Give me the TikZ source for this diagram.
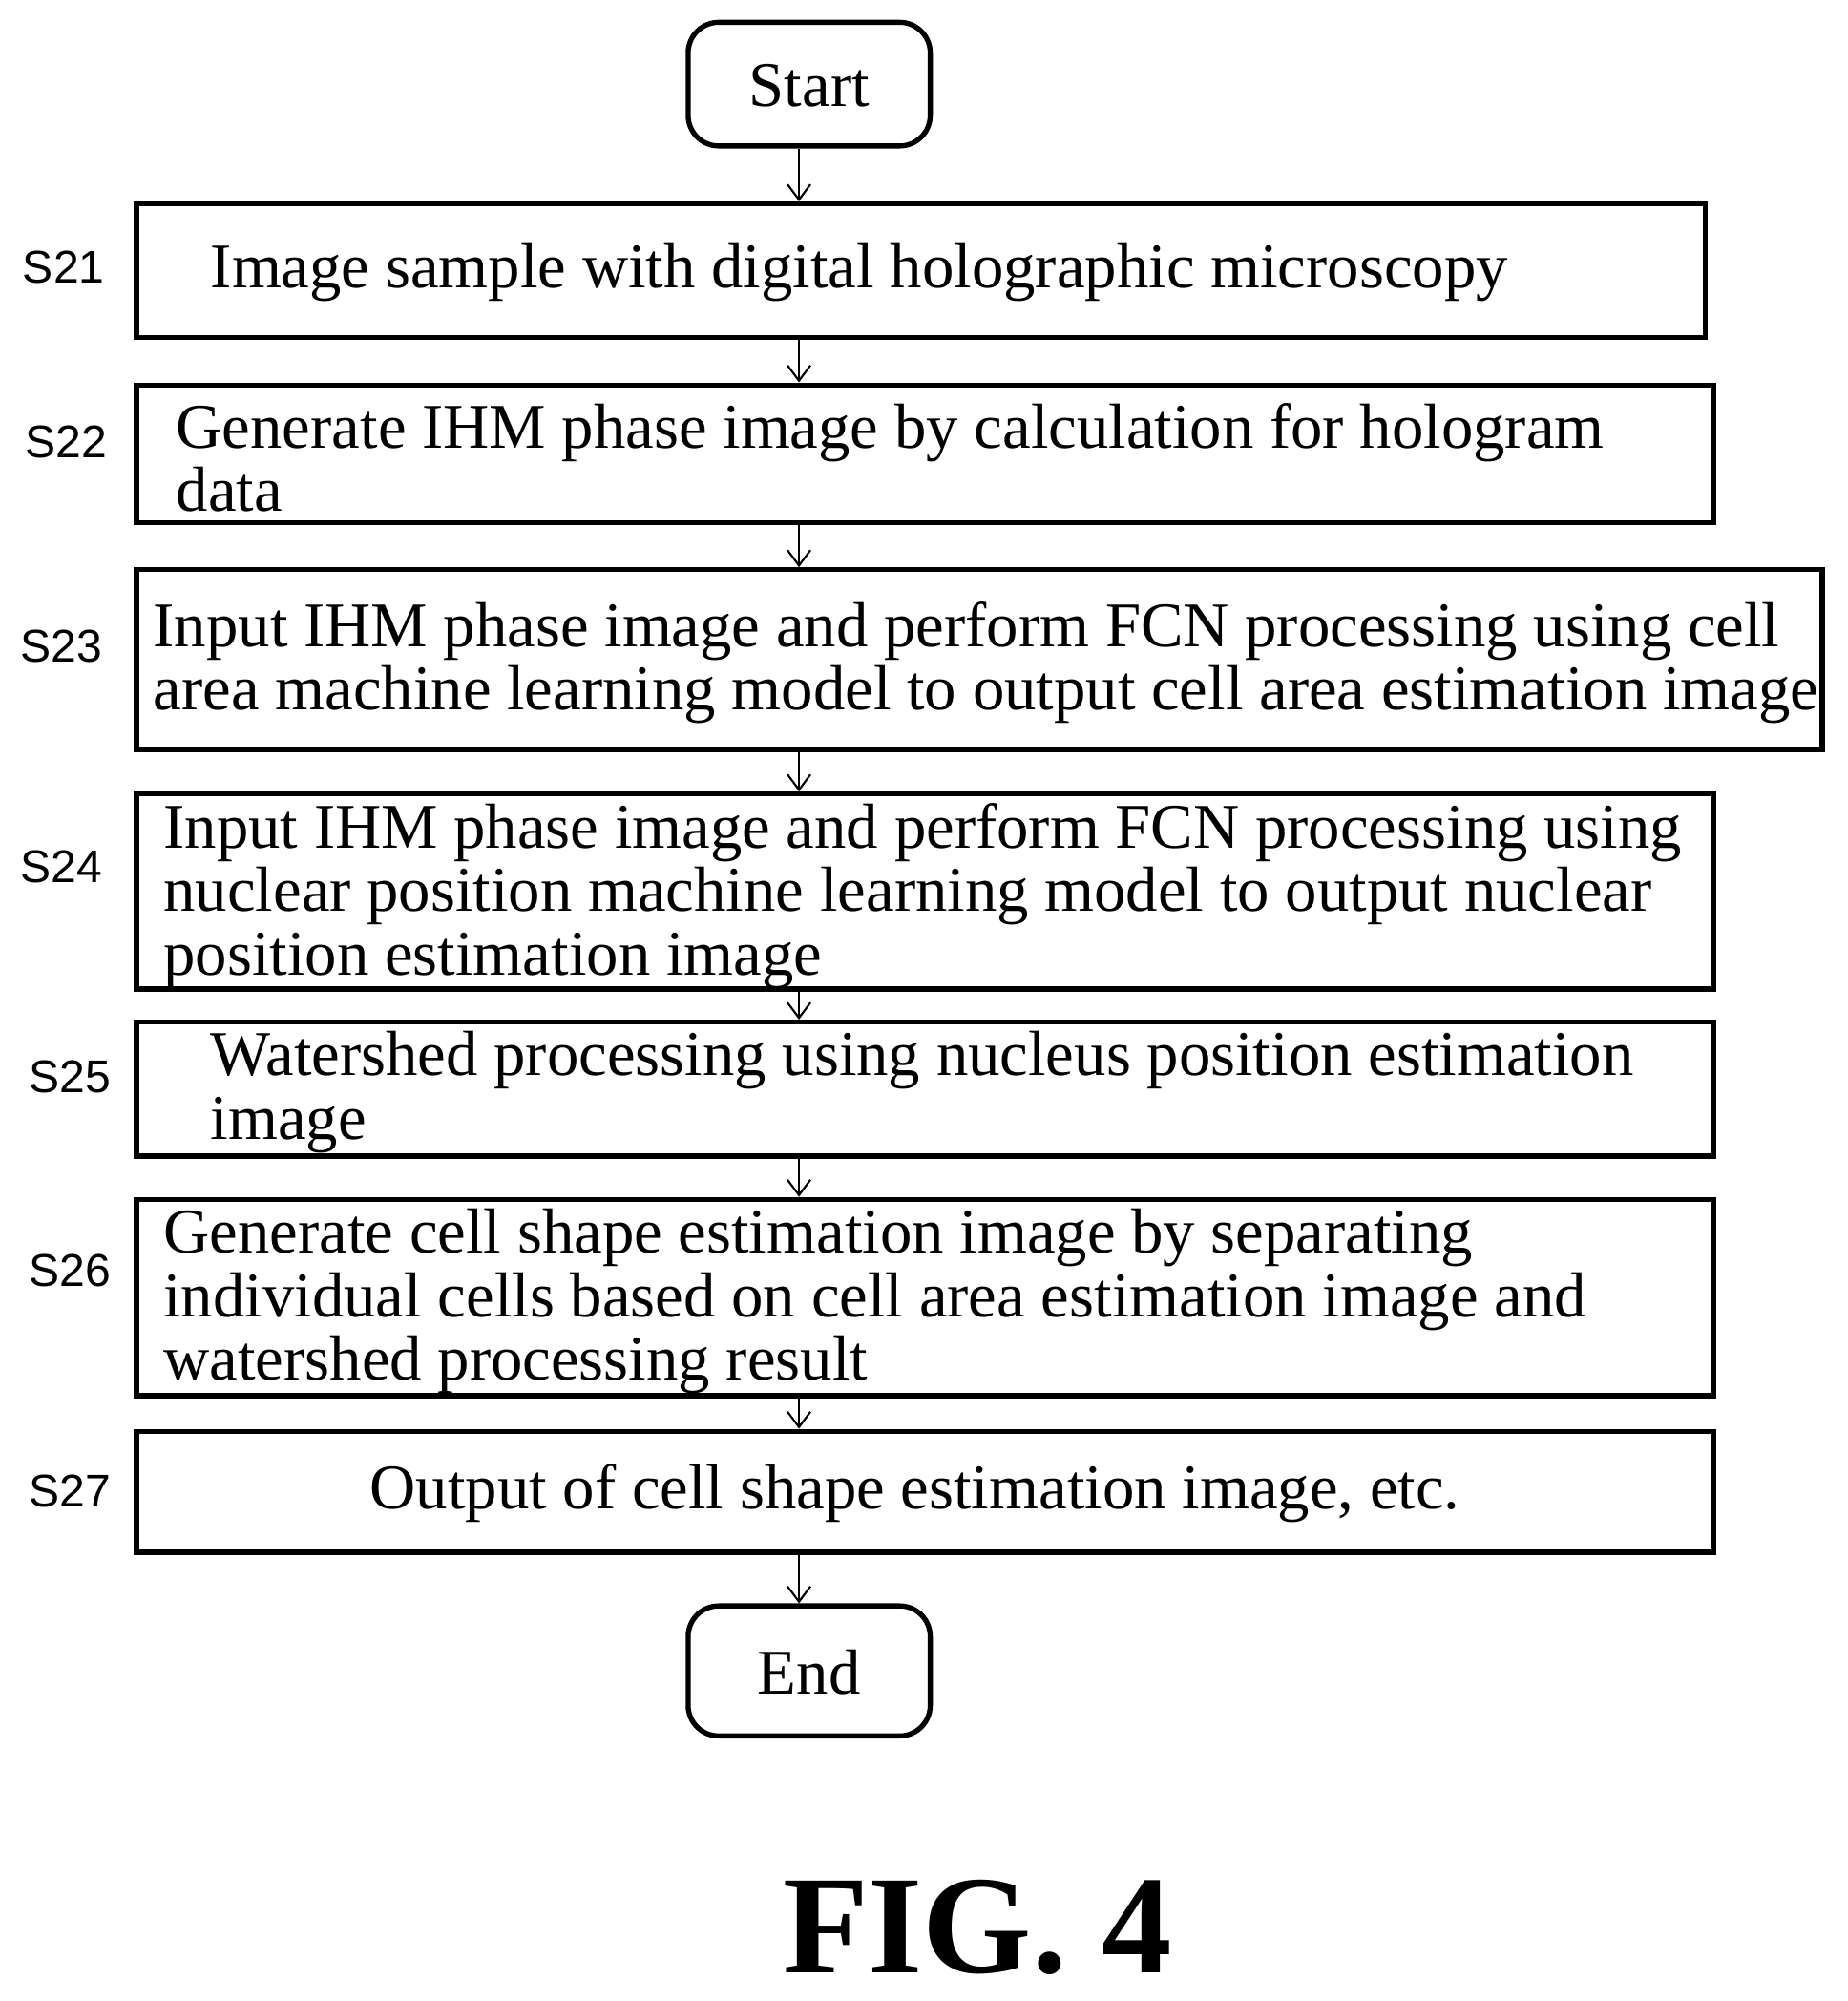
\documentclass[tikz,border=0pt]{standalone}
\usepackage{fontspec}
\setmainfont{Liberation Serif}
\newfontfamily\lab{Liberation Sans}
\usetikzlibrary{arrows.meta}
\begin{document}
\begin{tikzpicture}[x=0.5pt,y=-0.5pt,
 box/.style={draw,line width=2pt,inner sep=0pt},
 txt/.style={inner sep=0pt,align=left,font=\fontsize{25}{25}\selectfont},
 lbl/.style={inner sep=0pt,font=\lab\fontsize{18}{20}\selectfont},
 arr/.style={line width=0.8pt,-{Straight Barb[length=6pt,width=9pt]}}]
\useasboundingbox (0,0) rectangle (1450,1570);
\node[box,rounded corners=12pt,minimum width=95pt,minimum height=48.5pt] (st) at (635,66) {};
\node[txt] (stt) at (635,67) {Start};
\node[box,minimum width=615.5pt,minimum height=52.5pt] (s21) at (722.5,212.5) {};
\node[box,minimum width=619pt,minimum height=54pt] (s22) at (726,356) {};
\node[box,minimum width=661.5pt,minimum height=70.5pt] (s23) at (768.5,517.5) {};
\node[box,minimum width=619pt,minimum height=76.5pt] (s24) at (726,699.5) {};
\node[box,minimum width=619pt,minimum height=52.5pt] (s25) at (726,854.5) {};
\node[box,minimum width=619pt,minimum height=77pt] (s26) at (726,1018) {};
\node[box,minimum width=619pt,minimum height=47.5pt] (s27) at (726,1170.5) {};
\node[box,rounded corners=12pt,minimum width=95pt,minimum height=51pt] (en) at (635,1311) {};
\node[txt] (ent) at (635,1312) {End};
\node[txt,anchor=west] (t21) at (165,214) {Image sample with digital holographic microscopy};
\node[txt,anchor=west] (t22) at (138,359) {Generate IHM phase image by calculation for hologram\\data};
\node[txt,anchor=west] (t23) at (120,520) {Input IHM phase image and perform FCN processing using cell\\area machine learning model to output cell area estimation image};
\node[txt,anchor=west] (t24) at (128,703) {Input IHM phase image and perform FCN processing using\\nuclear position machine learning model to output nuclear\\position estimation image};
\node[txt,anchor=west] (t25) at (165,857) {Watershed processing using nucleus position estimation\\image};
\node[txt,anchor=west] (t26) at (128,1021) {Generate cell shape estimation image by separating\\individual cells based on cell area estimation image and\\watershed processing result};
\node[txt] (t27) at (718,1172) {Output of cell shape estimation image, etc.};
\node[lbl] (l21) at (50,210) {S21};
\node[lbl] (l22) at (52,347) {S22};
\node[lbl] (l23) at (48,507) {S23};
\node[lbl] (l24) at (48,680) {S24};
\node[lbl] (l25) at (55,845) {S25};
\node[lbl] (l26) at (55,997) {S26};
\node[lbl] (l27) at (55,1170) {S27};
\node[inner sep=0pt,font=\fontsize{55}{55}\selectfont\bfseries] (fig) at (767,1512) {FIG. 4};
\draw[arr] (st.south -| 627,0) -- (s21.north -| 627,0);
\draw[arr] (s21.south -| 627,0) -- (s22.north -| 627,0);
\draw[arr] (s22.south -| 627,0) -- (s23.north -| 627,0);
\draw[arr] (s23.south -| 627,0) -- (s24.north -| 627,0);
\draw[arr] (s24.south -| 627,0) -- (s25.north -| 627,0);
\draw[arr] (s25.south -| 627,0) -- (s26.north -| 627,0);
\draw[arr] (s26.south -| 627,0) -- (s27.north -| 627,0);
\draw[arr] (s27.south -| 627,0) -- (en.north -| 627,0);
\end{tikzpicture}
\end{document}
